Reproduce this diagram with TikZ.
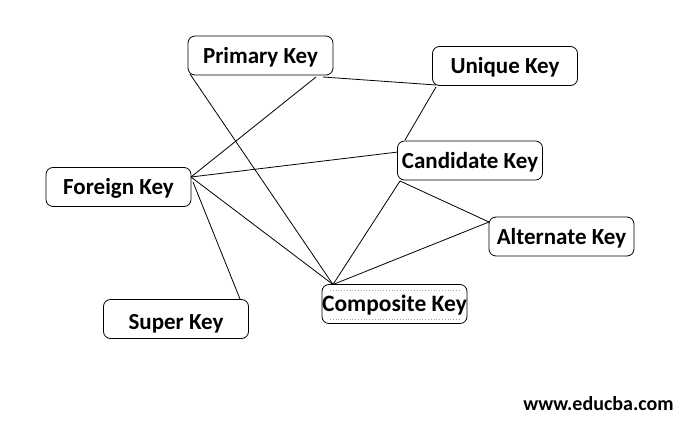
\documentclass[tikz,border=0pt]{standalone}
\usepackage{fontspec}
\setmainfont{Carlito}
\begin{document}
\begin{tikzpicture}[x=1pt,y=-1pt,
  keybox/.style={draw=black, line width=0.8pt, rounded corners=7pt, minimum width=145pt, minimum height=39pt, inner sep=0pt, text height=17pt, text depth=2pt, font=\fontsize{23}{26}\selectfont\bfseries},
  link/.style={draw=black, line width=0.8pt}]
\useasboundingbox[fill=white] (0,0) rectangle (686,423);
\node[keybox] (pk) at (260.5,55.5) {Primary Key};
\node[keybox] (uk) at (505,66) {Unique Key};
\node[keybox] (fk) at (118.5,187) {Foreign Key};
\node[keybox] (ck) at (470,160.5) {Candidate Key};
\node[keybox] (ak) at (561.5,236.5) {Alternate Key};
\node[keybox, font=\fontsize{23.5}{27}\selectfont\bfseries] (cp) at (394.5,304) {Composite Key};
\node[keybox, text height=20pt, text depth=0pt] (sk) at (176,319) {Super Key};
\node[font=\fontsize{20}{23}\selectfont\bfseries] (www) at (598.5,404) {www.educba.com};
% texture lines in composite key
\draw[gray!70, dotted, line width=0.8pt] (330,290) -- (460,290);
\draw[gray!70, dotted, line width=0.8pt] (330,319) -- (460,319);
% junction coordinates
\coordinate (fj) at (191,177);
\coordinate (cj) at (333,284.5);
\coordinate (pa) at (190,74);
\coordinate (pb) at (316,77);
\coordinate (pc) at (323,77);
\coordinate (ua) at (436,85);
\coordinate (ub) at (436,87);
\coordinate (ca) at (405,140);
\coordinate (cl) at (398,152);
\coordinate (cb) at (400,181);
\coordinate (al) at (489,222);
\coordinate (fs) at (193,182);
\coordinate (sa) at (240,299);
\draw[link] (pa) -- (cj);
\draw[link] (pb) -- (fj);
\draw[link] (pc) -- (ua);
\draw[link] (ub) -- (ca);
\draw[link] (fj) -- (cl);
\draw[link] (fj) -- (cj);
\draw[link] (fs) -- (sa);
\draw[link] (cb) -- (cj);
\draw[link] (cb) -- (al);
\draw[link] (al) -- (cj);
\end{tikzpicture}
\end{document}
